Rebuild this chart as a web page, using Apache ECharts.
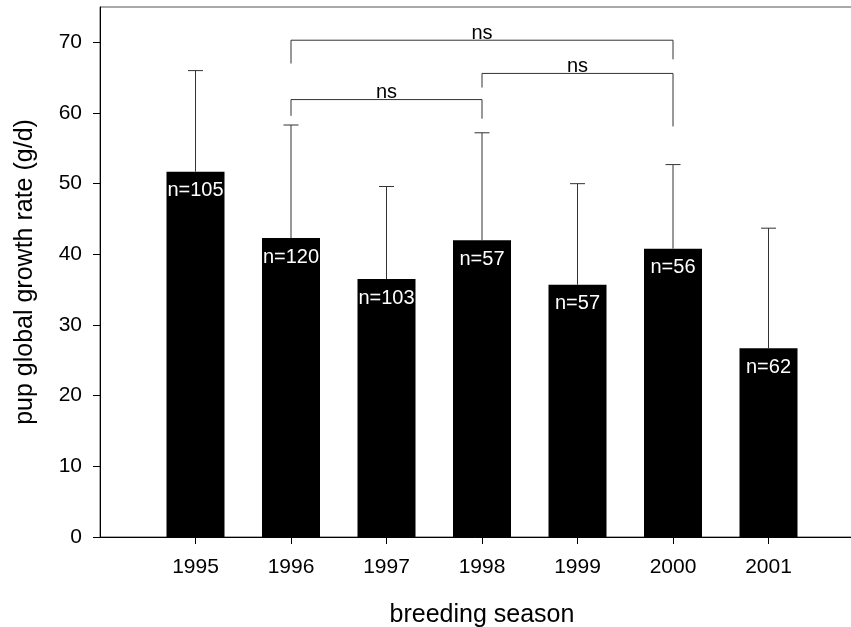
<!DOCTYPE html>
<html>
<head>
<meta charset="utf-8">
<script src="https://cdn.jsdelivr.net/npm/echarts@6/dist/echarts.min.js"></script>
<style>
  html, body { margin: 0; padding: 0; background: #fff; }
  #chart { width: 851px; height: 627px; }
</style>
</head>
<body>
<div id="chart"></div>
<script>
// axis runs one season either side of the data, only the data seasons get labels
const axisSeasons = ['1994', '1995', '1996', '1997', '1998', '1999', '2000', '2001', '2002']
const seasons = ['1995', '1996', '1997', '1998', '1999', '2000', '2001']
const meanGrowth = [51.7, 42.3, 36.5, 42.0, 35.7, 40.8, 26.7]
const sdGrowth = [14.3, 16.0, 13.1, 15.2, 14.3, 11.9, 17.0]
const sampleSize = [105, 120, 103, 57, 57, 56, 62]
const yTicks = [0, 10, 20, 30, 40, 50, 60, 70]

// significance brackets: from, to, height of bar, left leg end, right leg end
const bracketFrom = ['1996', '1996', '1998']
const bracketTo = ['2000', '1998', '2000']
const bracketTop = [70.3, 61.9, 65.6]
const bracketLeftEnd = [67.0, 59.6, 63.6]
const bracketRightEnd = [67.6, 59.2, 58.1]
const bracketText = ['ns', 'ns', 'ns']

const font = 'Liberation Sans, Arial, sans-serif'
const lastIdx = axisSeasons.length - 1
const showInner = (i) => i > 0 && i < lastIdx

const barData = seasons.map((s, i) => ({
  value: [s, meanGrowth[i]],
  label: { formatter: 'n=' + sampleSize[i] }
}))
const errData = seasons.map((s, i) => [s, meanGrowth[i], meanGrowth[i] + sdGrowth[i]])
// category positions as indices so api.coord can place both ends
const bracketData = bracketFrom.map((f, i) => [
  axisSeasons.indexOf(f), bracketTop[i], axisSeasons.indexOf(bracketTo[i]), bracketLeftEnd[i], bracketRightEnd[i]
])

const chart = echarts.init(document.getElementById('chart'))
chart.setOption({
  animation: false,
  grid: {
    left: 100, top: 7, width: 764, bottom: 90,
    outerBoundsMode: 'none',
    show: true, borderColor: '#555', borderWidth: 1
  },
  xAxis: {
    type: 'category',
    data: axisSeasons,
    boundaryGap: false,
    name: 'breeding season',
    nameLocation: 'middle',
    nameGap: 66,
    nameTextStyle: { fontSize: 25, color: '#000', fontFamily: font },
    axisLine: { lineStyle: { color: '#000', width: 1 } },
    axisTick: { interval: showInner, length: 7, lineStyle: { color: '#000' } },
    axisLabel: { interval: showInner, margin: 20, fontSize: 21, color: '#000', fontFamily: font },
    splitLine: { show: false }
  },
  yAxis: {
    type: 'value',
    min: 0,
    max: 75,
    interval: 10,
    name: 'pup global growth rate (g/d)',
    nameLocation: 'middle',
    nameGap: 62,
    nameTextStyle: { fontSize: 25, color: '#000', fontFamily: font },
    axisLine: { show: true, lineStyle: { color: '#000', width: 1 } },
    axisTick: { show: true, length: 7, customValues: yTicks, lineStyle: { color: '#000' } },
    axisLabel: { margin: 18, fontSize: 21, color: '#000', fontFamily: font, customValues: yTicks },
    splitLine: { show: false }
  },
  series: [
    {
      type: 'bar',
      data: barData,
      barWidth: 58,
      itemStyle: { color: '#000' },
      label: {
        show: true,
        position: 'insideTop',
        distance: 9,
        color: '#fff',
        fontSize: 20,
        fontFamily: font
      },
      z: 2
    },
    {
      type: 'custom',
      data: errData,
      z: 3,
      renderItem: (params, api) => {
        const base = api.coord([api.value(0), api.value(1)])
        const top = api.coord([api.value(0), api.value(2)])
        const half = 7.5
        const style = { stroke: '#333', lineWidth: 1 }
        return {
          type: 'group',
          children: [
            { type: 'line', shape: { x1: base[0], y1: base[1], x2: top[0], y2: top[1] }, style },
            { type: 'line', shape: { x1: top[0] - half, y1: top[1], x2: top[0] + half, y2: top[1] }, style }
          ]
        }
      }
    },
    {
      type: 'custom',
      data: bracketData,
      z: 3,
      renderItem: (params, api) => {
        const a = api.coord([api.value(0), api.value(1)])
        const b = api.coord([api.value(2), api.value(1)])
        const aEnd = api.coord([api.value(0), api.value(3)])
        const bEnd = api.coord([api.value(2), api.value(4)])
        return {
          type: 'group',
          children: [
            {
              type: 'polyline',
              shape: { points: [[aEnd[0], aEnd[1]], [a[0], a[1]], [b[0], b[1]], [bEnd[0], bEnd[1]]] },
              style: { stroke: '#333', lineWidth: 1, fill: null }
            },
            {
              type: 'text',
              x: (a[0] + b[0]) / 2,
              y: a[1] + 3,
              style: {
                text: bracketText[params.dataIndex],
                fontSize: 20,
                fontFamily: font,
                fill: '#000',
                align: 'center',
                verticalAlign: 'bottom'
              }
            }
          ]
        }
      }
    }
  ]
})
</script>
</body>
</html>
